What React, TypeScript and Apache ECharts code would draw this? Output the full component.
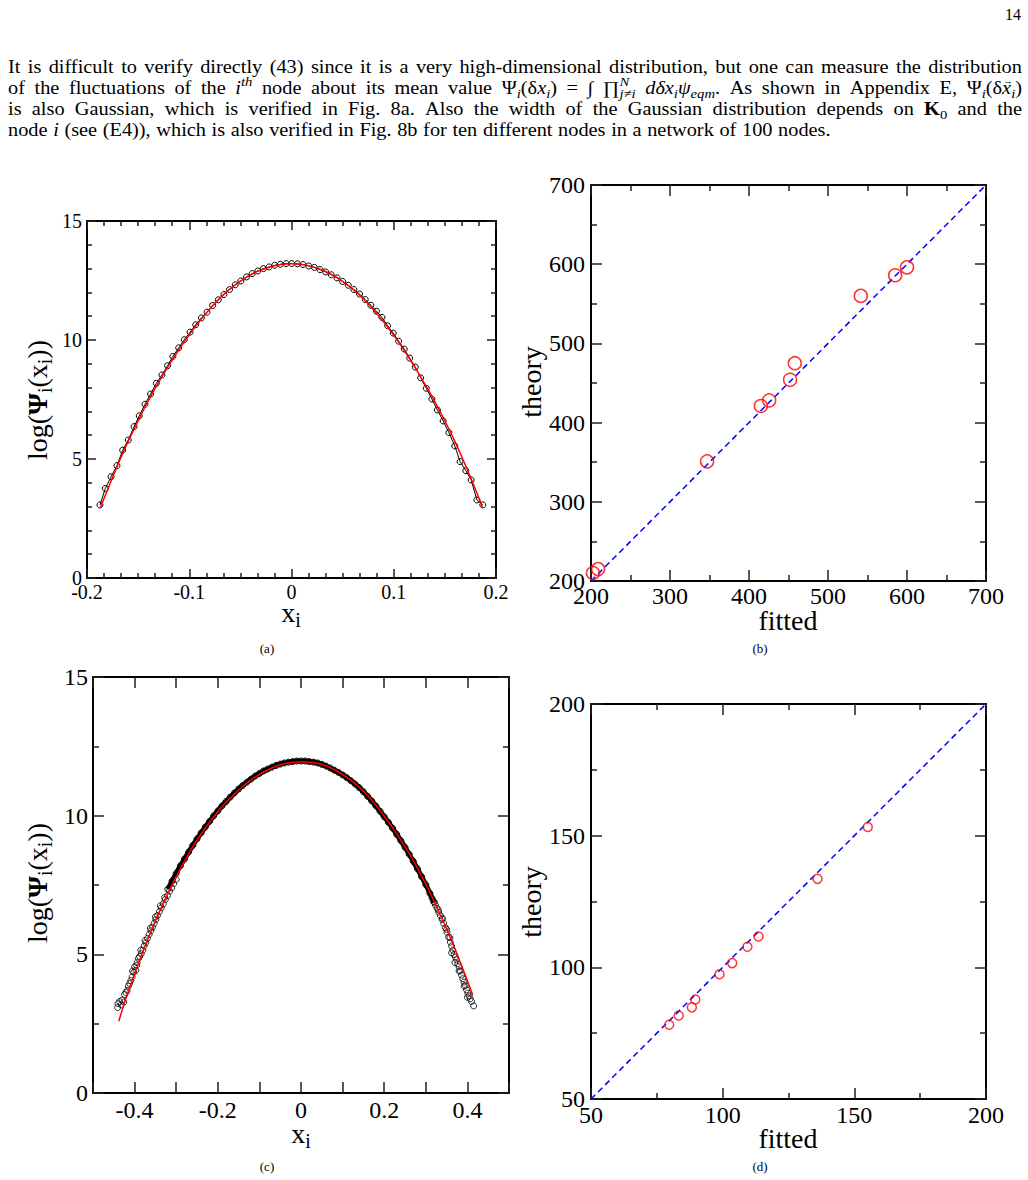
import React, { useEffect, useRef } from "react";
import * as echarts from "echarts";

const W = 1028;
const H = 1180;
const SERIF = '"Liberation Serif", "Times New Roman", serif';

// ---------- Fig. 8a : log(Psi_i(x_i)) vs x_i, 100-node network ----------
const aSamples: [number, number][] = [
  [-0.1873, 3.07], [-0.1821, 3.76], [-0.1765, 4.25], [-0.1707, 4.72], [-0.1651, 5.37], [-0.1596, 5.8],
  [-0.154, 6.36], [-0.1489, 6.81], [-0.1433, 7.3], [-0.1378, 7.73], [-0.1322, 8.18], [-0.1267, 8.53],
  [-0.1212, 8.92], [-0.116, 9.31], [-0.1103, 9.67], [-0.1049, 10.01], [-0.0992, 10.33], [-0.0937, 10.64],
  [-0.0881, 10.93], [-0.0826, 11.17], [-0.0771, 11.45], [-0.0716, 11.69], [-0.0661, 11.91], [-0.0606, 12.12],
  [-0.055, 12.32], [-0.0495, 12.48], [-0.044, 12.65], [-0.0385, 12.79], [-0.033, 12.9], [-0.0274, 13.0],
  [-0.0219, 13.07], [-0.0164, 13.14], [-0.0109, 13.18], [-0.0053, 13.21], [0.0002, 13.21], [0.0058, 13.2],
  [0.0113, 13.17], [0.0168, 13.11], [0.0224, 13.05], [0.0279, 12.96], [0.0334, 12.86], [0.0389, 12.74],
  [0.0445, 12.61], [0.05, 12.46], [0.0555, 12.3], [0.061, 12.12], [0.0666, 11.93], [0.0721, 11.7],
  [0.0776, 11.46], [0.0831, 11.21], [0.0885, 10.95], [0.094, 10.6], [0.0995, 10.29], [0.1048, 9.95],
  [0.1103, 9.62], [0.1156, 9.24], [0.1211, 8.86], [0.1263, 8.41], [0.1318, 7.97], [0.1373, 7.52],
  [0.1427, 7.06], [0.1483, 6.6], [0.1539, 6.11], [0.1597, 5.55], [0.1649, 4.89], [0.1705, 4.51],
  [0.1757, 4.12], [0.1813, 3.28], [0.1871, 3.07],
];
const aFit: [number, number][] = [
  [-0.187, 2.94], [-0.18, 3.7], [-0.17, 4.75], [-0.16, 5.72], [-0.15, 6.6], [-0.14, 7.45], [-0.13, 8.22],
  [-0.12, 8.93], [-0.11, 9.6], [-0.1, 10.22], [-0.09, 10.78], [-0.08, 11.3], [-0.07, 11.76], [-0.06, 12.15],
  [-0.05, 12.47], [-0.04, 12.74], [-0.03, 12.94], [-0.02, 13.08], [-0.01, 13.17], [0, 13.2], [0.01, 13.17],
  [0.02, 13.08], [0.03, 12.94], [0.04, 12.73], [0.05, 12.46], [0.06, 12.13], [0.07, 11.74], [0.08, 11.28],
  [0.09, 10.77], [0.1, 10.2], [0.11, 9.58], [0.12, 8.9], [0.13, 8.18], [0.14, 7.42], [0.15, 6.6],
  [0.16, 5.72], [0.17, 4.75], [0.18, 3.72], [0.187, 2.94],
];

// ---------- Fig. 8b : theory vs fitted width, 100-node network ----------
const bFitted = [202.5, 209, 347, 415, 425.5, 452, 458, 541.5, 585, 600];
const bTheory = [210, 215, 351, 421, 428, 454, 475, 560, 586, 596];
const bDiagonal = [200, 700];

// ---------- Fig. 8c : log(Psi_i(x_i)) vs x_i (dense samples) ----------
const cBand: [number, number][] = [
  [-0.32, 7.35], [-0.31, 7.64], [-0.3, 7.92], [-0.29, 8.19], [-0.28, 8.44], [-0.27, 8.69], [-0.26, 8.93],
  [-0.25, 9.16], [-0.24, 9.38], [-0.23, 9.59], [-0.22, 9.79], [-0.21, 9.99], [-0.2, 10.17], [-0.19, 10.35],
  [-0.18, 10.51], [-0.17, 10.67], [-0.16, 10.82], [-0.15, 10.96], [-0.14, 11.09], [-0.13, 11.21], [-0.12, 11.32],
  [-0.11, 11.43], [-0.1, 11.52], [-0.09, 11.61], [-0.08, 11.68], [-0.07, 11.75], [-0.06, 11.81], [-0.05, 11.86],
  [-0.04, 11.9], [-0.03, 11.93], [-0.02, 11.95], [-0.01, 11.97], [0, 11.97], [0.01, 11.97], [0.02, 11.95],
  [0.03, 11.93], [0.04, 11.9], [0.05, 11.85], [0.06, 11.79], [0.07, 11.72], [0.08, 11.64], [0.09, 11.56],
  [0.1, 11.47], [0.11, 11.37], [0.12, 11.26], [0.13, 11.14], [0.14, 11.01], [0.15, 10.86], [0.16, 10.7],
  [0.17, 10.53], [0.18, 10.35], [0.19, 10.16], [0.2, 9.96], [0.21, 9.76], [0.22, 9.55], [0.23, 9.33],
  [0.24, 9.1], [0.25, 8.86], [0.26, 8.61], [0.27, 8.35], [0.28, 8.08], [0.29, 7.8], [0.3, 7.51],
  [0.31, 7.2], [0.32, 6.88],
];
const cTailLeft: [number, number][] = [
  [-0.441, 3.08], [-0.44, 3.22], [-0.436, 3.3], [-0.432, 3.18], [-0.43, 3.35], [-0.426, 3.28], [-0.424, 3.55],
  [-0.421, 3.62], [-0.418, 3.7], [-0.415, 3.85], [-0.412, 3.95], [-0.409, 4.05], [-0.406, 4.18], [-0.402, 4.35],
  [-0.4, 4.55], [-0.397, 4.42], [-0.394, 4.7], [-0.391, 4.85], [-0.388, 4.92], [-0.384, 5.02], [-0.38, 5.15],
  [-0.377, 5.3], [-0.373, 5.42], [-0.369, 5.58], [-0.365, 5.72], [-0.361, 5.85], [-0.357, 5.98], [-0.353, 6.12],
  [-0.349, 6.25], [-0.345, 6.4], [-0.34, 6.55], [-0.336, 6.68], [-0.331, 6.82], [-0.326, 6.98], [-0.321, 7.12],
  [-0.316, 7.28], [-0.311, 7.4], [-0.306, 7.55], [-0.3, 7.7], [-0.405, 4.4], [-0.395, 4.6], [-0.385, 5.15],
  [-0.375, 5.5], [-0.362, 5.95], [-0.35, 6.35], [-0.338, 6.75], [-0.328, 7.05],
];
const cTailRight: [number, number][] = [
  [0.315, 7.02], [0.319, 6.9], [0.323, 6.78], [0.327, 6.66], [0.331, 6.52], [0.335, 6.4], [0.339, 6.26],
  [0.343, 6.12], [0.347, 5.96], [0.351, 5.8], [0.355, 5.62], [0.359, 5.44], [0.362, 5.3], [0.365, 5.15],
  [0.368, 5.0], [0.371, 4.9], [0.374, 4.8], [0.377, 4.66], [0.38, 4.55], [0.383, 4.4], [0.386, 4.25],
  [0.389, 4.12], [0.392, 4.0], [0.395, 3.88], [0.398, 3.72], [0.401, 3.6], [0.404, 3.5], [0.407, 3.4],
  [0.41, 3.3], [0.415, 3.14], [0.362, 5.05], [0.37, 4.7], [0.38, 4.4], [0.392, 3.85], [0.4, 3.45],
  [0.33, 6.6], [0.34, 6.3], [0.35, 5.9], [0.358, 5.6],
];
const cFit: [number, number][] = [
  [-0.438, 2.59], [-0.42, 3.45], [-0.4, 4.3], [-0.38, 5.1], [-0.36, 5.85], [-0.34, 6.55], [-0.32, 7.2],
  [-0.3, 7.8], [-0.28, 8.36], [-0.26, 8.88], [-0.24, 9.34], [-0.22, 9.76], [-0.2, 10.14], [-0.18, 10.48],
  [-0.16, 10.78], [-0.14, 11.05], [-0.12, 11.29], [-0.1, 11.49], [-0.08, 11.65], [-0.06, 11.78], [-0.04, 11.87],
  [-0.02, 11.92], [0, 11.94], [0.02, 11.93], [0.04, 11.88], [0.06, 11.8], [0.08, 11.66], [0.1, 11.49],
  [0.12, 11.28], [0.14, 11.03], [0.16, 10.73], [0.18, 10.38], [0.2, 9.99], [0.22, 9.57], [0.24, 9.12],
  [0.26, 8.63], [0.28, 8.1], [0.3, 7.53], [0.32, 6.9], [0.34, 6.26], [0.36, 5.56], [0.38, 4.82],
  [0.4, 4.05], [0.413, 3.53],
];

// ---------- Fig. 8d : theory vs fitted width ----------
const dFitted = [79.7, 83.3, 88.3, 89.6, 98.8, 103.6, 109.4, 113.6, 136, 155.1];
const dTheory = [78.2, 81.7, 84.8, 87.8, 97.4, 101.6, 107.8, 111.7, 133.6, 153.3];
const dDiagonal = [50, 200];

// ---------- text ----------
type Seg = { t: string; k?: string; stack?: boolean };
const para1 = "It is difficult to verify directly (43) since it is a very high-dimensional distribution, but one can measure the distribution";
const para3a = "is also Gaussian, which is verified in Fig. 8a. Also the width of the Gaussian distribution depends on";
const para4b = "(see (E4)), which is also verified in Fig. 8b for ten different nodes in a network of 100 nodes.";

function words(s: string): Seg[][] {
  return s.split(" ").filter((w) => w.length).map((w) => [{ t: w }]);
}

function segStyle(k: string | undefined, base: number) {
  const sm = Math.round(base * 0.7);
  switch (k) {
    case "i": return { fontStyle: "italic", fontWeight: "normal", fontSize: base, dy: 0 };
    case "b": return { fontStyle: "normal", fontWeight: "bold", fontSize: base, dy: 0 };
    case "sub": return { fontStyle: "italic", fontWeight: "normal", fontSize: sm, dy: base * 0.3 };
    case "subn": return { fontStyle: "normal", fontWeight: "normal", fontSize: sm, dy: base * 0.3 };
    case "sup": return { fontStyle: "italic", fontWeight: "normal", fontSize: sm, dy: -base * 0.36 };
    case "vec": return { fontStyle: "normal", fontWeight: "normal", fontSize: Math.round(base * 0.5), dy: -base * 0.42 };
    default: return { fontStyle: "normal", fontWeight: "normal", fontSize: base, dy: 0 };
  }
}

export default function App() {
  const ref = useRef<HTMLDivElement>(null);
  useEffect(() => {
    if (!ref.current) return;
    const canvas = document.createElement("canvas");
    const ctx = canvas.getContext("2d")!;
    const measure = (t: string, st: any) => {
      ctx.font = `${st.fontStyle} ${st.fontWeight} ${st.fontSize}px ${SERIF}`;
      return ctx.measureText(t).width;
    };
    const layout = (segs: Seg[], base: number, x0: number, y: number, lh?: number) => {
      const children: any[] = [];
      let cx = x0;
      let prevStart = x0;
      let prevEnd = x0;
      for (const s of segs) {
        const st = segStyle(s.k, base);
        const w = measure(s.t, st);
        let x = cx;
        if (s.k === "vec") {
          x = prevStart + (prevEnd - prevStart) / 2 - w / 2 + 1;
        } else if (s.stack) {
          x = prevStart;
        }
        children.push({
          type: "text",
          x,
          y: y + st.dy,
          style: {
            text: s.t,
            fontFamily: SERIF,
            fontSize: st.fontSize,
            fontStyle: st.fontStyle,
            fontWeight: st.fontWeight,
            lineHeight: lh ? Math.round(st.fontSize * lh) : undefined,
            fill: "#000",
            align: "left",
            verticalAlign: "middle",
          },
        });
        if (s.k === "vec") continue;
        if (s.stack) {
          cx = Math.max(prevEnd, x + w);
        } else {
          prevStart = x;
          prevEnd = x + w;
          cx = x + w;
        }
      }
      return { children, width: cx - x0 };
    };
    const wordWidth = (segs: Seg[], base: number) => layout(segs, base, 0, 0).width;

    const graphics: any[] = [];
    const PF = 18;
    const SX = 1.13;
    const left = 8;
    const right = 1022;
    const lines: { y: number; ws: Seg[][]; justify: boolean }[] = [
      { y: 67, ws: words(para1), justify: true },
      {
        y: 88,
        justify: true,
        ws: [
          ...words("of the fluctuations of the"),
          [{ t: "i", k: "i" }, { t: "th", k: "sup" }],
          ...words("node about its mean value"),
          [{ t: "Ψ" }, { t: "i", k: "sub" }, { t: "(δ" }, { t: "x", k: "i" }, { t: "i", k: "sub" }, { t: ")" }],
          [{ t: "=" }],
          [{ t: "∫" }],
          [{ t: "∏" }, { t: "N", k: "sup" }, { t: "j≠i", k: "sub", stack: true }],
          [{ t: "dδx", k: "i" }, { t: "i", k: "sub" }, { t: "ψ", k: "i" }, { t: "eqm", k: "sub" }, { t: "." }],
          ...words("As shown in Appendix E,"),
          [{ t: "Ψ" }, { t: "i", k: "sub" }, { t: "(δ" }, { t: "x", k: "i" }, { t: "→", k: "vec" }, { t: "i", k: "sub" }, { t: ")" }],
        ],
      },
      {
        y: 109,
        justify: true,
        ws: [...words(para3a), [{ t: "K", k: "b" }, { t: "0", k: "subn" }], ...words("and the")],
      },
      {
        y: 130,
        justify: false,
        ws: [...words("node"), [{ t: "i", k: "i" }], ...words(para4b)],
      },
    ];
    const spaceW = measure(" ", segStyle(undefined, PF));
    const avail = (right - left) / SX;
    for (const ln of lines) {
      const widths = ln.ws.map((w) => wordWidth(w, PF));
      const total = widths.reduce((a, b) => a + b, 0);
      const gap = ln.justify ? (avail - total) / (ln.ws.length - 1) : spaceW * 1.1;
      let x = 0;
      const kids: any[] = [];
      ln.ws.forEach((w, i) => {
        kids.push(...layout(w, PF, x, 0, 1.0).children);
        x += widths[i] + gap;
      });
      graphics.push({ type: "group", x: left, y: ln.y, scaleX: SX, scaleY: 1, children: kids });
    }
    // page number
    graphics.push({
      type: "text", x: 1013, y: 14,
      style: { text: "14", fontFamily: SERIF, fontSize: 16, fill: "#000", align: "center", verticalAlign: "middle" },
    });
    // captions
    const caption = (t: string, x: number, y: number) =>
      graphics.push({
        type: "text", x, y,
        style: { text: t, fontFamily: SERIF, fontSize: 13, fill: "#000", align: "center", verticalAlign: "middle" },
      });
    caption("(a)", 267, 648);
    caption("(b)", 760, 648);
    caption("(c)", 267, 1166);
    caption("(d)", 760, 1166);

    // axis titles
    const centered = (segs: Seg[], base: number, cx: number, cy: number, rotate: boolean) => {
      const w = wordWidth(segs, base);
      const { children } = layout(segs, base, -w / 2, 0, 0.7);
      graphics.push({ type: "group", x: cx, y: cy, rotation: rotate ? Math.PI / 2 : 0, children });
    };
    const logPsi: Seg[] = [
      { t: "log(" }, { t: "Ψ", k: "b" }, { t: "i", k: "subn" }, { t: "(x" }, { t: "i", k: "subn" }, { t: "))" },
    ];
    const xi: Seg[] = [{ t: "x" }, { t: "i", k: "subn" }];
    centered(logPsi, 28, 37, 400, true);
    centered(xi, 28, 291, 612, false);
    centered(logPsi, 28, 37, 883, true);
    centered(xi, 28, 301, 1133, false);
    centered([{ t: "theory" }], 28, 531, 382, true);
    centered([{ t: "fitted" }], 28, 788, 620, false);
    centered([{ t: "theory" }], 28, 531, 902, true);
    centered([{ t: "fitted" }], 28, 788, 1138, false);

    // axes
    const fmt1 = (v: number) => {
      const r = Math.round(v * 10) / 10;
      return Math.abs(r) < 1e-9 ? "0" : String(r);
    };
    const fmtEven = (v: number) => {
      const n = Math.round(v * 10);
      if (n % 2 !== 0) return "";
      return n === 0 ? "0" : String(n / 10);
    };
    const mkAxes = (
      pos: "x" | "y", gridIndex: number, min: number, max: number, interval: number,
      minorSplit: number, fontSize: number, margin: number, fmt: any, tickLen: number, minorLen: number,
    ) => {
      const base: any = {
        type: "value", gridIndex, min, max, interval,
        axisLine: { show: true, onZero: false, lineStyle: { color: "#000", width: 2 } },
        axisTick: { show: true, inside: true, length: tickLen, lineStyle: { color: "#222", width: 1.5 } },
        minorTick: { show: minorSplit > 1, splitNumber: minorSplit, length: minorLen, lineStyle: { color: "#222", width: 1.5 } },
        splitLine: { show: false },
        minorSplitLine: { show: false },
      };
      return [
        {
          ...base,
          position: pos === "x" ? "bottom" : "left",
          axisLabel: {
            show: true, color: "#000", fontFamily: SERIF, fontSize, margin, formatter: fmt,
            showMinLabel: true, showMaxLabel: true,
          },
        },
        { ...base, position: pos === "x" ? "top" : "right", axisLabel: { show: false } },
      ];
    };
    const intFmt = (v: number) => String(Math.round(v));
    const xAxis = [
      ...mkAxes("x", 0, -0.2, 0.2, 0.1, 6, 20, 4, fmt1, 9, 5),
      ...mkAxes("x", 1, 200, 700, 100, 2, 24, 3, intFmt, 11, 6),
      ...mkAxes("x", 2, -0.5, 0.5, 0.1, 1, 24, 5, fmtEven, 11, 6),
      ...mkAxes("x", 3, 50, 200, 50, 2, 24, 4, intFmt, 11, 6),
    ];
    const yAxis = [
      ...mkAxes("y", 0, 0, 15, 5, 5, 20, 5, intFmt, 9, 5),
      ...mkAxes("y", 1, 200, 700, 100, 2, 24, 6, intFmt, 11, 6),
      ...mkAxes("y", 2, 0, 15, 5, 2, 24, 5, intFmt, 11, 6),
      ...mkAxes("y", 3, 50, 200, 50, 2, 24, 6, intFmt, 11, 6),
    ];
    const hollow = (c: string, bw: number) => ({ color: "rgba(0,0,0,0)", borderColor: c, borderWidth: bw });

    const option: any = {
      animation: false,
      backgroundColor: "#fff",
      grid: [
        { left: 87, top: 221, width: 409, height: 357 },
        { left: 591, top: 185, width: 395, height: 396 },
        { left: 93, top: 677, width: 416, height: 416 },
        { left: 591, top: 704, width: 395, height: 395 },
      ],
      xAxis,
      yAxis,
      series: [
        {
          name: "8a samples", type: "line", xAxisIndex: 0, yAxisIndex: 0, data: aSamples,
          symbol: "circle", symbolSize: 6, itemStyle: hollow("#000", 1), lineStyle: { color: "#000", width: 1 }, z: 2,
        },
        {
          name: "8a fit", type: "line", xAxisIndex: 0, yAxisIndex: 0, data: aFit, smooth: true,
          symbol: "none", lineStyle: { color: "#ff0000", width: 1.5 }, z: 3,
        },
        {
          name: "8b diagonal", type: "line", xAxisIndex: 2, yAxisIndex: 2,
          data: bDiagonal.map((v) => [v, v]), symbol: "none",
          lineStyle: { color: "#0000ff", width: 1.5, type: [6, 4] }, z: 2,
        },
        {
          name: "8b nodes", type: "scatter", xAxisIndex: 2, yAxisIndex: 2, clip: false,
          data: bFitted.map((f, i) => [f, bTheory[i]]),
          symbol: "circle", symbolSize: 13, itemStyle: hollow("#ff0000", 1.5), z: 3,
        },
        {
          name: "8c samples", type: "line", xAxisIndex: 4, yAxisIndex: 4, data: cBand, smooth: true,
          symbol: "circle", symbolSize: 6, itemStyle: hollow("#000", 1), lineStyle: { color: "#000", width: 5 }, z: 2,
        },
        {
          name: "8c tail", type: "scatter", xAxisIndex: 4, yAxisIndex: 4,
          data: [...cTailLeft, ...cTailRight],
          symbol: "circle", symbolSize: 6, itemStyle: hollow("#000", 1), z: 2,
        },
        {
          name: "8c fit", type: "line", xAxisIndex: 4, yAxisIndex: 4, data: cFit, smooth: true,
          symbol: "none", lineStyle: { color: "#ff0000", width: 1.5 }, z: 3,
        },
        {
          name: "8d diagonal", type: "line", xAxisIndex: 6, yAxisIndex: 6,
          data: dDiagonal.map((v) => [v, v]), symbol: "none",
          lineStyle: { color: "#0000ff", width: 1.5, type: [6, 4] }, z: 2,
        },
        {
          name: "8d nodes", type: "scatter", xAxisIndex: 6, yAxisIndex: 6, clip: false,
          data: dFitted.map((f, i) => [f, dTheory[i]]),
          symbol: "circle", symbolSize: 9, itemStyle: hollow("#ff0000", 1.5), z: 3,
        },
      ],
      graphic: graphics,
    };
    const chart = echarts.init(ref.current, undefined, { renderer: "svg", width: W, height: H });
    chart.setOption(option);
    return () => chart.dispose();
  }, []);
  return (
    <div
      ref={ref}
      style={{ position: "absolute", left: 0, top: 0, width: W, height: H, background: "#fff" }}
    />
  );
}
